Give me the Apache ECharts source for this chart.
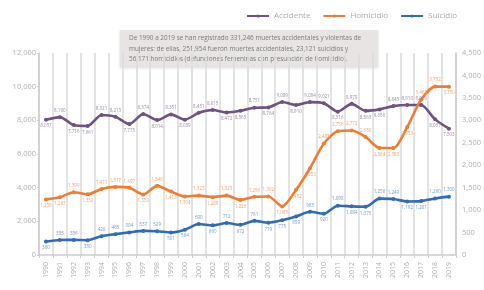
<!DOCTYPE html>
<html>
<head>
<meta charset="utf-8">
<script src="https://cdn.jsdelivr.net/npm/echarts@6/dist/echarts.min.js"></script>
<style>
  html, body { margin: 0; padding: 0; background: #fff; }
  #main { width: 484px; height: 290px; }
</style>
</head>
<body>
<div id="main"></div>
<script>
var years = ['1990','1991','1992','1993','1994','1995','1996','1997','1998','1999',
  '2000','2001','2002','2003','2004','2005','2006','2007','2008','2009',
  '2010','2011','2012','2013','2014','2015','2016','2017','2018','2019'];

var accidente = [8037, 8190, 7716, 7661, 8321, 8213, 7775, 8374, 8014, 8351,
  8039, 8451, 8615, 8472, 8565, 8751, 8764, 9089, 8910, 9084,
  9021, 8516, 8979, 8563, 8650, 8845, 8910, 8909, 8057, 7503];

var homicidio = [1239, 1287, 1399, 1352, 1471, 1517, 1497, 1350, 1540, 1413,
  1304, 1323, 1289, 1323, 1225, 1296, 1302, 1083, 1452, 1933,
  2485, 2756, 2772, 2630, 2384, 2383, 2853, 3462, 3752, 3750];

var suicidio = [300, 335, 336, 330, 420, 465, 504, 537, 529, 501,
  564, 690, 660, 712, 672, 761, 719, 775, 859, 963,
  920, 1098, 1084, 1075, 1256, 1249, 1192, 1201, 1260, 1300];

var leftTicks = [0, 2000, 4000, 6000, 8000, 10000, 12000];
var rightTicks = [0, 500, 1000, 1500, 2000, 2500, 3000, 3500, 4000, 4500];

var nota = [
  'De 1990 a 2019 se han registrado 331,246 muertes accidentales y violentas de',
  'mujeres: de ellas, 251,954 fueron muertes accidentales, 23,121 suicidios y',
  '56,171 homicidios (defunciones femeninas con presunción de homicidio).'
];

var fmt = function (v) { return String(v).replace(/\B(?=(\d{3})+(?!\d))/g, ','); };

// label goes under a point that sits below its neighbours
function withLabels(arr) {
  return arr.map(function (v, i) {
    var prev = i > 0 ? arr[i - 1] : arr[i + 1];
    var next = i < arr.length - 1 ? arr[i + 1] : arr[i - 1];
    var below = v < (prev + next) / 2;
    return { value: v, label: { position: below ? 'bottom' : 'top' } };
  });
}

function serie(name, data, color, labelColor, axis) {
  return {
    name: name,
    type: 'line',
    yAxisIndex: axis,
    data: withLabels(data),
    smooth: 0.25,
    symbol: 'circle',
    symbolSize: 4,
    lineStyle: { width: 2.6, color: color },
    itemStyle: { color: color },
    label: {
      show: true,
      fontSize: 4.5,
      distance: 2,
      color: labelColor,
      fontFamily: 'Open Sans',
      formatter: function (p) { return fmt(p.value); }
    },
    emphasis: { disabled: true },
    animation: false
  };
}

var chart = echarts.init(document.getElementById('main'));
chart.setOption({
  textStyle: { fontFamily: 'Open Sans' },
  legend: {
    top: 7,
    right: 22,
    itemWidth: 22,
    itemHeight: 4,
    itemGap: 12,
    textStyle: { fontSize: 8, color: '#aaa' },
    data: ['Accidente', 'Homicidio', 'Suicidio']
  },
  grid: { left: 39, right: 17, top: 53, bottom: 35 },
  xAxis: {
    type: 'category',
    data: years,
    axisLine: { lineStyle: { color: '#ccc', width: 1.5 } },
    axisTick: { show: true, length: 3, lineStyle: { color: '#ccc' } },
    axisLabel: { rotate: 90, fontSize: 7, color: '#b0b0b0', margin: 7 },
    splitLine: { show: true, lineStyle: { color: '#dcdcdc', width: 1.6 } }
  },
  yAxis: [{
    type: 'value',
    min: leftTicks[0],
    max: leftTicks[leftTicks.length - 1],
    interval: leftTicks[1] - leftTicks[0],
    axisLine: { show: true, lineStyle: { color: '#ccc', width: 1.5 } },
    axisTick: { show: true, length: 2, lineStyle: { color: '#ccc' } },
    axisLabel: { fontSize: 7.5, color: '#b0b0b0', margin: 3, formatter: fmt },
    splitLine: { show: false }
  }, {
    type: 'value',
    min: rightTicks[0],
    max: rightTicks[rightTicks.length - 1],
    interval: rightTicks[1] - rightTicks[0],
    axisLine: { show: true, lineStyle: { color: '#ccc', width: 1.5 } },
    axisTick: { show: false },
    axisLabel: { fontSize: 7.5, color: '#b0b0b0', margin: 6, formatter: fmt },
    splitLine: { show: false }
  }],
  series: [
    serie('Accidente', accidente, '#6e5380', '#9a88a6', 0),
    serie('Homicidio', homicidio, '#ef7d31', '#f2a070', 1),
    serie('Suicidio', suicidio, '#2f6cb5', '#7196c8', 1)
  ],
  graphic: [{
    type: 'group',
    left: 120,
    top: 30,
    z: 100,
    children: [{
      type: 'rect',
      shape: { x: 0, y: 0, width: 258, height: 37 },
      style: { fill: '#e8e4e4', shadowBlur: 3, shadowColor: 'rgba(0,0,0,0.15)', shadowOffsetY: 1 }
    }].concat(nota.map(function (t, i) {
      return {
        type: 'text',
        x: 9,
        y: 5.5 + i * 10.5,
        style: { text: t, fontSize: 6.4, fill: '#7a7a7a', fontFamily: 'Open Sans' }
      };
    }))
  }]
});
</script>
</body>
</html>
